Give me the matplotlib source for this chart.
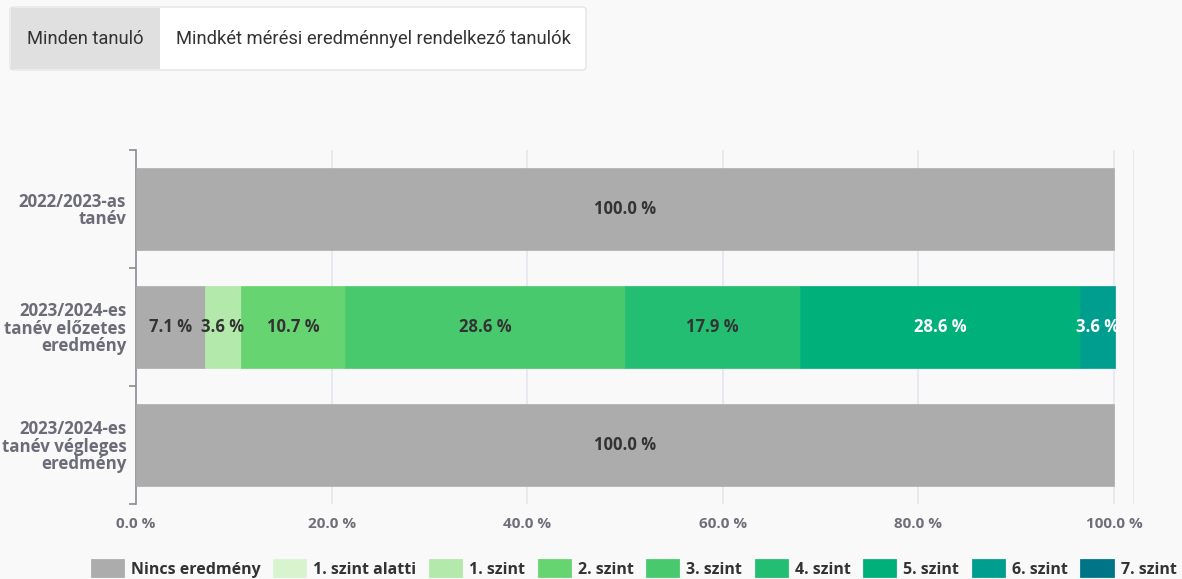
import numpy as np
import matplotlib.pyplot as plt
from matplotlib.patches import FancyBboxPatch, Patch, Rectangle

# categories (top to bottom) and series
categories = ["2022/2023-as\ntanév", "2023/2024-es\ntanév előzetes\neredmény", "2023/2024-es\ntanév végleges\neredmény"]
series_names = ["Nincs eredmény", "1. szint alatti", "1. szint", "2. szint", "3. szint",
                "4. szint", "5. szint", "6. szint", "7. szint"]
series_colors = ["#acacac", "#d8f4cf", "#b3e9aa", "#66d470", "#48c96d",
                 "#23be72", "#00b07a", "#009e8f", "#007587"]
label_colors = ["#333333", "#333333", "#333333", "#333333", "#333333",
                "#333333", "#ffffff", "#ffffff", "#ffffff"]
values = {
    "Nincs eredmény": [100.0, 7.1, 100.0],
    "1. szint alatti": [0, 0, 0],
    "1. szint": [0, 3.6, 0],
    "2. szint": [0, 10.7, 0],
    "3. szint": [0, 28.6, 0],
    "4. szint": [0, 17.9, 0],
    "5. szint": [0, 28.6, 0],
    "6. szint": [0, 3.6, 0],
    "7. szint": [0, 0, 0],
}
x_ticks = [0, 20, 40, 60, 80, 100]
tab_labels = ["Minden tanuló", "Mindkét mérési eredménnyel rendelkező tanulók"]

W, H = 1182, 579
bg = "#f9f9f9"
fig = plt.figure(figsize=(W / 100, H / 100), dpi=100, facecolor=bg)


def fx(px):
    return px / W


def fy(py):
    return 1 - py / H


ax = fig.add_axes([fx(136), fy(504), fx(1133.6) - fx(136), fy(150) - fy(504)])
ax.set_facecolor(bg)

y = np.arange(len(categories))
left = np.zeros(len(categories))
for name, col, lc in zip(series_names, series_colors, label_colors):
    vals = np.array(values[name])
    for i, v in enumerate(vals):
        if v <= 0:
            continue
        ax.barh(y[i], v, left=left[i], height=0.69, color=col, edgecolor=col, linewidth=0.5, zorder=3)
        ax.text(left[i] + v / 2, y[i], "{:.1f} %".format(v), ha="center", va="center",
                color=lc, fontsize=12, fontweight="bold", family="Open Sans", zorder=4)
    left += vals

ax.set_xlim(0, 102)
ax.set_ylim(2.5, -0.5)

# grid
for xv in x_ticks[1:] + [102]:
    ax.axvline(xv, color="#e3e7ef", linewidth=1.2, zorder=1)

ax.set_xticks(x_ticks)
ax.set_xticklabels(["{:.1f} %".format(v) for v in x_ticks], fontsize=11, fontweight="bold",
                   color="#6f6f7a", family="Open Sans")
ax.tick_params(axis="x", length=0, pad=9)

ax.set_yticks(y)
ax.set_yticklabels(categories, fontsize=12.2, fontweight="bold", color="#6c6c78",
                   family="Open Sans", linespacing=0.95)
ax.tick_params(axis="y", which="major", length=0, pad=7)
ax.set_yticks([-0.5, 0.5, 1.5, 2.5], minor=True)
ax.tick_params(axis="y", which="minor", length=5, width=1.2, color="#8a8a94")

for s in ["top", "right", "bottom"]:
    ax.spines[s].set_visible(False)
ax.spines["left"].set_color("#8a8a94")
ax.spines["left"].set_linewidth(1.2)

# tab buttons at the top
box = FancyBboxPatch((fx(10), fy(70)), fx(576), fy(7) - fy(70),
                     boxstyle="round,pad=0,rounding_size=0.004", transform=fig.transFigure,
                     facecolor="white", edgecolor="#e4e4e4", linewidth=1)
fig.patches.append(box)
fig.patches.append(Rectangle((fx(11), fy(69)), fx(149), fy(8) - fy(69), transform=fig.transFigure,
                             facecolor="#e0e0e0", edgecolor="none"))
fig.text(fx(85), fy(39), tab_labels[0], ha="center", va="center", fontsize=13.2,
         family="Roboto", color="#333333")
fig.text(fx(373), fy(39), tab_labels[1], ha="center", va="center", fontsize=13.2,
         family="Roboto", color="#333333")

# legend
handles = [Patch(facecolor=c, edgecolor=c, linewidth=2, joinstyle="round", label=n)
           for n, c in zip(series_names, series_colors)]
leg = fig.legend(handles=handles, loc="center", bbox_to_anchor=(fx(634), fy(569)), ncol=9,
                 frameon=False, handlelength=1.95, handleheight=1.15, handletextpad=0.5,
                 columnspacing=0.85, borderpad=0,
                 prop={"family": "Open Sans", "weight": "bold", "size": 11.5})
for t in leg.get_texts():
    t.set_color("#333333")

fig.savefig("out.png", dpi=100, facecolor=bg)
